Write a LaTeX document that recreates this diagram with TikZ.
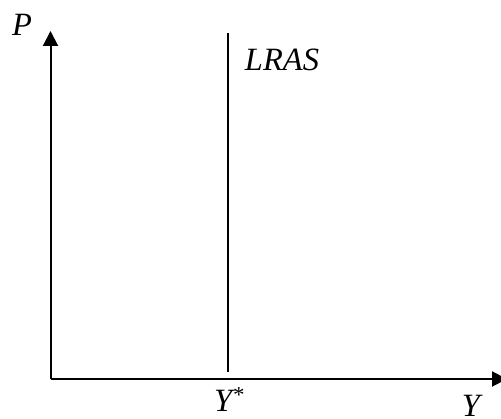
\documentclass[tikz,border=0pt]{standalone}
\usepackage{fontspec}
\setmainfont{Liberation Serif}
\usetikzlibrary{arrows.meta}

\begin{document}
\begin{tikzpicture}[x=1pt, y=1pt, >={Triangle[width=15pt, length=15pt]},
  axis/.style={line width=2pt},
  curve/.style={line width=2pt},
  lbl/.style={font=\fontsize{32.5}{36}\selectfont\itshape, inner sep=0pt}]

\useasboundingbox (0,0) rectangle (501,419);

% axes
\coordinate (o)  at (50.5,40);
\coordinate (pt) at (50.5,388);
\coordinate (yt) at (507,40);
\draw[axis, ->] (o) -- (pt);
\draw[axis, ->] (o) -- (yt);

% long-run aggregate supply
\coordinate (lrastop) at (227.5,386);
\coordinate (lrasbot) at (227.5,47);
\draw[curve] (lrasbot) -- (lrastop);

% labels
\node[lbl] (plabel)    at (22,394)  {P};
\node[lbl] (lraslabel) at (282,359) {LRAS};
\node[lbl] (ystar)     at (229,19)  {Y\textsuperscript{*}};
\node[lbl] (ylabel)    at (471,13)  {Y};

\end{tikzpicture}
\end{document}
